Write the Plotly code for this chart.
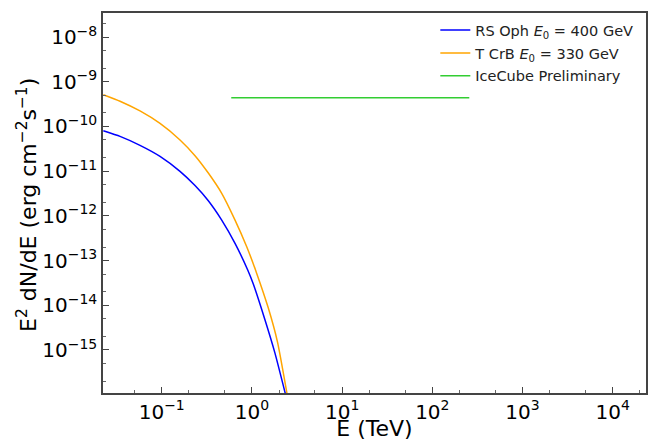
import plotly.graph_objects as go

# Spectral energy distributions, E in TeV, E^2 dN/dE in erg cm^-2 s^-1
rs_oph_E = [0.02252, 0.03449, 0.05744, 0.09576, 0.15952, 0.2339, 0.3286, 0.4626,
            0.6497, 0.8984, 1.036, 1.397, 1.804, 2.346]
rs_oph_flux = [8.02e-11, 6.0e-11, 3.776e-11, 2.14e-11, 9.9e-12, 4.76e-12, 2.18e-12, 8.05e-13,
               2.43e-13, 6.13e-14, 2.98e-14, 4.67e-15, 8.39e-16, 1.058e-16]

t_crb_E = [0.02252, 0.03449, 0.05744, 0.09576, 0.15952, 0.2339, 0.3286, 0.4626,
           0.6497, 0.8758, 1.1302, 1.5199, 1.9223, 2.449]
t_crb_flux = [5.12e-10, 3.663e-10, 2.222e-10, 1.167e-10, 4.989e-11, 2.222e-11, 9.07e-12, 3.19e-12,
              8.05e-13, 2.04e-13, 5.17e-14, 8.66e-15, 1.502e-15, 1.058e-16]

icecube_E = [0.59, 257.0]
icecube_flux = [4.4e-10, 4.4e-10]

labels = ["RS Oph <i>E</i><sub>0</sub> = 400 GeV",
          "T CrB <i>E</i><sub>0</sub> = 330 GeV",
          "IceCube Preliminary"]
colors = ["#0000FF", "#FFA500", "#32CD32"]

x_tick_exps = [-1, 0, 1, 2, 3, 4]
y_tick_exps = [-15, -14, -13, -12, -11, -10, -9, -8]


def power_label(e):
    return "10<sup>" + str(e).replace("-", "−") + "</sup>"


fig = go.Figure()
series = [(rs_oph_E, rs_oph_flux, "spline"), (t_crb_E, t_crb_flux, "spline"),
          (icecube_E, icecube_flux, "linear")]
for i, (xs, ys, shape) in enumerate(series):
    fig.add_trace(go.Scatter(x=xs, y=ys, mode="lines", name=labels[i], legendgroup=str(i),
                             line=dict(color=colors[i], width=1.5, shape=shape, smoothing=0.5)))

font_family = "DejaVu Sans"
axis_common = dict(
    type="log",
    showgrid=False,
    zeroline=False,
    showline=True,
    linecolor="#444444",
    linewidth=1.5,
    mirror=True,
    ticks="inside",
    ticklen=6,
    tickwidth=1,
    tickcolor="#444444",
    tickfont=dict(family=font_family, size=20, color="black"),
    minor=dict(ticks="inside", ticklen=3, tickwidth=1, tickcolor="#666666"),
)

fig.update_xaxes(
    range=[-1.651, 4.369],
    tickvals=[10 ** e for e in x_tick_exps],
    ticktext=[power_label(e) for e in x_tick_exps],
    title=dict(text="E (TeV)", font=dict(family=font_family, size=22, color="black"), standoff=3),
    **axis_common,
)
fig.update_yaxes(
    range=[-15.962, -7.463],
    tickvals=[10 ** e for e in y_tick_exps],
    ticktext=[power_label(e) for e in y_tick_exps],
    **axis_common,
)

# y-axis title placed as a rotated annotation
fig.add_annotation(
    text="E<sup>2</sup> dN/dE (erg cm<sup>−2</sup>s<sup>−1</sup>)",
    xref="paper", yref="paper", x=-0.14, y=0.495,
    xanchor="center", yanchor="middle", textangle=-90, showarrow=False,
    font=dict(family=font_family, size=22, color="black"),
)

fig.update_layout(
    width=652,
    height=441,
    margin=dict(l=103, r=6, t=13, b=48, autoexpand=False),
    paper_bgcolor="white",
    plot_bgcolor="white",
    font=dict(family=font_family, color="black"),
    legend=dict(
        x=0.612, y=0.997, xanchor="left", yanchor="top",
        bgcolor="rgba(0,0,0,0)",
        font=dict(family=font_family, size=14.5, color="#222222"),
        tracegroupgap=1,
        itemwidth=30,
    ),
    showlegend=True,
)

fig.write_html("out.html")
